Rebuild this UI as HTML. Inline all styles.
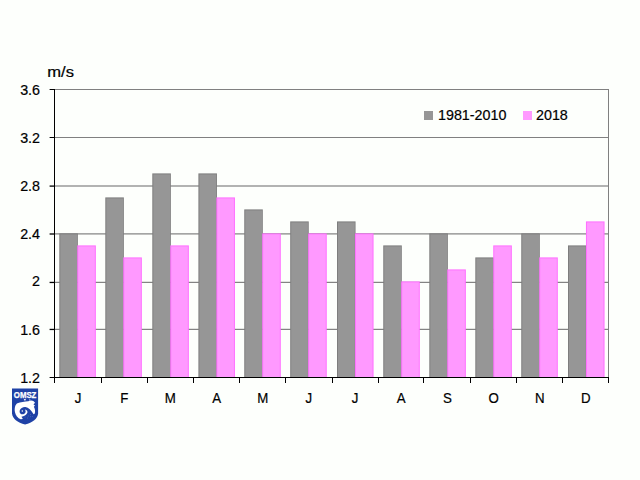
<!DOCTYPE html>
<html><head><meta charset="utf-8"><title>chart</title>
<style>
html,body{margin:0;padding:0;background:#fdfffc;}
body{width:640px;height:480px;overflow:hidden;}
svg{display:block;}
text{font-family:"Liberation Sans",sans-serif;fill:#000;stroke:#000;stroke-width:0.2px;}
</style></head><body>
<svg width="640" height="480" viewBox="0 0 640 480">
<rect x="0" y="0" width="640" height="480" fill="#fdfffc"/>
<g shape-rendering="crispEdges">
</g><g>
<rect x="54" y="89" width="555" height="1" fill="#808080"/>
<rect x="54" y="137" width="555" height="1" fill="#808080"/>
<rect x="54" y="185.45" width="555" height="1.1" fill="#767676"/>
<rect x="54" y="233.35" width="555" height="1.1" fill="#767676"/>
<rect x="54" y="281.8" width="555" height="1.1" fill="#767676"/>
<rect x="54" y="328.8" width="555" height="1.1" fill="#767676"/>
</g><g shape-rendering="crispEdges">
<rect x="608" y="89" width="1" height="288" fill="#808080"/>
</g><g>
<rect x="59.30" y="233.4" width="18.55" height="143.6" fill="#7e7e7e"/>
<rect x="60.30" y="234.4" width="16.75" height="142.6" fill="#969696"/>
<rect x="77.25" y="245.4" width="18.60" height="131.6" fill="#ff6fff"/>
<rect x="78.25" y="246.4" width="16.60" height="130.6" fill="#ff99ff"/>
<rect x="105.30" y="197.4" width="18.55" height="179.6" fill="#7e7e7e"/>
<rect x="106.30" y="198.4" width="16.75" height="178.6" fill="#969696"/>
<rect x="123.25" y="257.4" width="18.60" height="119.60000000000002" fill="#ff6fff"/>
<rect x="124.25" y="258.4" width="16.60" height="118.60000000000002" fill="#ff99ff"/>
<rect x="152.30" y="173.4" width="18.55" height="203.6" fill="#7e7e7e"/>
<rect x="153.30" y="174.4" width="16.75" height="202.6" fill="#969696"/>
<rect x="170.25" y="245.4" width="18.60" height="131.6" fill="#ff6fff"/>
<rect x="171.25" y="246.4" width="16.60" height="130.6" fill="#ff99ff"/>
<rect x="198.40" y="173.4" width="18.55" height="203.6" fill="#7e7e7e"/>
<rect x="199.40" y="174.4" width="16.75" height="202.6" fill="#969696"/>
<rect x="216.35" y="197.4" width="18.60" height="179.6" fill="#ff6fff"/>
<rect x="217.35" y="198.4" width="16.60" height="178.6" fill="#ff99ff"/>
<rect x="244.25" y="209.4" width="18.55" height="167.6" fill="#7e7e7e"/>
<rect x="245.25" y="210.4" width="16.75" height="166.6" fill="#969696"/>
<rect x="262.20" y="233.4" width="18.60" height="143.6" fill="#ff6fff"/>
<rect x="263.20" y="234.4" width="16.60" height="142.6" fill="#ff99ff"/>
<rect x="290.20" y="221.4" width="18.55" height="155.6" fill="#7e7e7e"/>
<rect x="291.20" y="222.4" width="16.75" height="154.6" fill="#969696"/>
<rect x="308.15" y="233.4" width="18.60" height="143.6" fill="#ff6fff"/>
<rect x="309.15" y="234.4" width="16.60" height="142.6" fill="#ff99ff"/>
<rect x="337.00" y="221.4" width="18.55" height="155.6" fill="#7e7e7e"/>
<rect x="338.00" y="222.4" width="16.75" height="154.6" fill="#969696"/>
<rect x="354.95" y="233.4" width="18.60" height="143.6" fill="#ff6fff"/>
<rect x="355.95" y="234.4" width="16.60" height="142.6" fill="#ff99ff"/>
<rect x="383.25" y="245.4" width="18.55" height="131.6" fill="#7e7e7e"/>
<rect x="384.25" y="246.4" width="16.75" height="130.6" fill="#969696"/>
<rect x="401.20" y="281.4" width="18.60" height="95.60000000000002" fill="#ff6fff"/>
<rect x="402.20" y="282.4" width="16.60" height="94.60000000000002" fill="#ff99ff"/>
<rect x="429.30" y="233.4" width="18.55" height="143.6" fill="#7e7e7e"/>
<rect x="430.30" y="234.4" width="16.75" height="142.6" fill="#969696"/>
<rect x="447.25" y="269.4" width="18.60" height="107.60000000000002" fill="#ff6fff"/>
<rect x="448.25" y="270.4" width="16.60" height="106.60000000000002" fill="#ff99ff"/>
<rect x="475.30" y="257.4" width="18.55" height="119.60000000000002" fill="#7e7e7e"/>
<rect x="476.30" y="258.4" width="16.75" height="118.60000000000002" fill="#969696"/>
<rect x="493.25" y="245.4" width="18.60" height="131.6" fill="#ff6fff"/>
<rect x="494.25" y="246.4" width="16.60" height="130.6" fill="#ff99ff"/>
<rect x="521.25" y="233.4" width="18.55" height="143.6" fill="#7e7e7e"/>
<rect x="522.25" y="234.4" width="16.75" height="142.6" fill="#969696"/>
<rect x="539.20" y="257.4" width="18.60" height="119.60000000000002" fill="#ff6fff"/>
<rect x="540.20" y="258.4" width="16.60" height="118.60000000000002" fill="#ff99ff"/>
<rect x="568.00" y="245.4" width="18.55" height="131.6" fill="#7e7e7e"/>
<rect x="569.00" y="246.4" width="16.75" height="130.6" fill="#969696"/>
<rect x="585.95" y="221.4" width="18.60" height="155.6" fill="#ff6fff"/>
<rect x="586.95" y="222.4" width="16.60" height="154.6" fill="#ff99ff"/>
</g><g shape-rendering="crispEdges">
<rect x="54" y="89" width="1" height="289" fill="#000"/>
<rect x="54" y="377" width="555" height="1" fill="#000"/>
</g><g>
<rect x="49.6" y="89" width="4.4" height="1" fill="#000"/>
<rect x="49.6" y="137" width="4.4" height="1" fill="#000"/>
<rect x="49.6" y="185.45" width="4.4" height="1.3" fill="#000"/>
<rect x="49.6" y="233.35" width="4.4" height="1.3" fill="#000"/>
<rect x="49.6" y="281.8" width="4.4" height="1.3" fill="#000"/>
<rect x="49.6" y="328.8" width="4.4" height="1.3" fill="#000"/>
<rect x="49.6" y="377" width="4.4" height="1" fill="#000"/>
</g><g shape-rendering="crispEdges">
<rect x="54" y="377" width="1" height="6" fill="#000"/>
<rect x="101" y="377" width="1" height="6" fill="#000"/>
<rect x="147" y="377" width="1" height="6" fill="#000"/>
<rect x="193" y="377" width="1" height="6" fill="#000"/>
<rect x="239" y="377" width="1" height="6" fill="#000"/>
<rect x="285" y="377" width="1" height="6" fill="#000"/>
<rect x="332" y="377" width="1" height="6" fill="#000"/>
<rect x="378" y="377" width="1" height="6" fill="#000"/>
<rect x="423" y="377" width="1" height="6" fill="#000"/>
<rect x="470" y="377" width="1" height="6" fill="#000"/>
<rect x="516" y="377" width="1" height="6" fill="#000"/>
<rect x="562" y="377" width="1" height="6" fill="#000"/>
<rect x="608" y="377" width="1" height="6" fill="#000"/>
<rect x="424" y="111" width="9" height="9" fill="#969696"/>
<rect x="523" y="111" width="9" height="9" fill="#ff99ff"/>
</g>
<text transform="translate(40,94.8) scale(1.0,1)" font-size="14.3" text-anchor="end">3.6</text>
<text transform="translate(40,142.8) scale(1.0,1)" font-size="14.3" text-anchor="end">3.2</text>
<text transform="translate(40,190.8) scale(1.0,1)" font-size="14.3" text-anchor="end">2.8</text>
<text transform="translate(40,238.8) scale(1.0,1)" font-size="14.3" text-anchor="end">2.4</text>
<text transform="translate(40,285.90000000000003) scale(1.0,1)" font-size="14.3" text-anchor="end">2</text>
<text transform="translate(40,334.5) scale(1.0,1)" font-size="14.3" text-anchor="end">1.6</text>
<text transform="translate(40,382.8) scale(1.0,1)" font-size="14.3" text-anchor="end">1.2</text>
<text transform="translate(78.1,402.5) scale(0.93,1)" font-size="14.3" text-anchor="middle">J</text>
<text transform="translate(124.2,402.5) scale(0.93,1)" font-size="14.3" text-anchor="middle">F</text>
<text transform="translate(170.4,402.5) scale(0.93,1)" font-size="14.3" text-anchor="middle">M</text>
<text transform="translate(216.6,402.5) scale(0.93,1)" font-size="14.3" text-anchor="middle">A</text>
<text transform="translate(262.8,402.5) scale(0.93,1)" font-size="14.3" text-anchor="middle">M</text>
<text transform="translate(308.9,402.5) scale(0.93,1)" font-size="14.3" text-anchor="middle">J</text>
<text transform="translate(355.1,402.5) scale(0.93,1)" font-size="14.3" text-anchor="middle">J</text>
<text transform="translate(401.2,402.5) scale(0.93,1)" font-size="14.3" text-anchor="middle">A</text>
<text transform="translate(447.4,402.5) scale(0.93,1)" font-size="14.3" text-anchor="middle">S</text>
<text transform="translate(493.6,402.5) scale(0.93,1)" font-size="14.3" text-anchor="middle">O</text>
<text transform="translate(539.8,402.5) scale(0.93,1)" font-size="14.3" text-anchor="middle">N</text>
<text transform="translate(585.9,402.5) scale(0.93,1)" font-size="14.3" text-anchor="middle">D</text>
<text transform="translate(47.3,76.5) scale(1.16,1)" font-size="14.3" text-anchor="start">m/s</text>
<text transform="translate(438,119.8) scale(1.0,1)" font-size="14.3" text-anchor="start">1981-2010</text>
<text transform="translate(536,119.8) scale(1.0,1)" font-size="14.3" text-anchor="start">2018</text>
<g id="logo">
<path d="M12 388.6 H38.1 V413.5 C37.8 418.5 32.5 422.5 25.05 424.6 C17.6 422.5 12.3 418.5 12 413.5 Z" fill="#1f42a6"/>
<text x="25.1" y="397.5" font-size="8.6" font-weight="bold" text-anchor="middle" style="fill:#fff;stroke:#fff;stroke-width:0.25px" textLength="22.6" lengthAdjust="spacingAndGlyphs">OMSZ</text>
<g transform="translate(12,398) scale(0.05417)" fill="#fff">
<path d="M428 92 L400 62 C370 38 335 48 300 58 C240 68 150 72 100 98 C58 122 42 190 55 262 C66 322 108 372 160 394 L200 386 C192 366 182 356 174 346 C218 344 268 314 284 274 C292 246 276 218 238 212 C250 232 256 250 248 268 C238 294 205 306 172 298 C146 288 134 258 144 226 C156 190 200 162 248 166 C305 174 355 226 398 302 L418 292 C434 250 426 200 404 160 L425 140 L400 125 C398 112 410 100 428 92 Z"/>
<circle cx="190" cy="242" r="14"/>
<ellipse cx="238" cy="32" rx="20" ry="12"/>
<circle cx="330" cy="35" r="10"/>
<g opacity="0.35"><circle cx="300" cy="330" r="9"/><circle cx="340" cy="300" r="9"/><circle cx="345" cy="345" r="9"/><circle cx="290" cy="370" r="8"/><circle cx="240" cy="350" r="8"/><circle cx="80" cy="330" r="8"/><circle cx="380" cy="340" r="8"/></g>
</g>
</g>
</svg></body></html>
